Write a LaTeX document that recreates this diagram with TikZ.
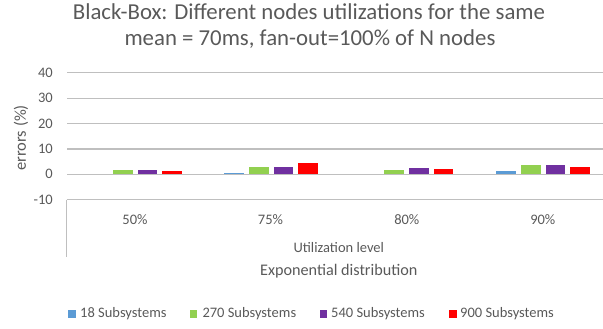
\documentclass[tikz,border=0pt]{standalone}
\usepackage{fontspec}
\setmainfont{Carlito}
\definecolor{txt}{HTML}{595959}
\definecolor{grid}{HTML}{BFBFBF}
\definecolor{cblue}{HTML}{5B9BD5}
\definecolor{cgreen}{HTML}{92D050}
\definecolor{cpurple}{HTML}{7030A0}
\definecolor{cred}{HTML}{FF0000}
\tikzset{
  gridline/.style={draw=grid, line width=1.2pt},
  axisline/.style={draw=grid, line width=1pt},
  lbl/.style={text=txt, inner sep=0pt, font=\fontsize{14.5}{17}\selectfont},
  tick/.style={lbl, anchor=east},
  legbox/.style={inner sep=0pt, minimum size=7.5pt},
}
\begin{document}
\begin{tikzpicture}[x=1pt,y=-1pt]
\useasboundingbox (0,0) rectangle (603,329);
% title
\node[lbl, anchor=base, font=\fontsize{22.8}{26}\selectfont] (t1) at (309,20) {Black-Box: Different nodes utilizations for the same};
\node[lbl, anchor=base, font=\fontsize{22.8}{26}\selectfont] (t2) at (310,46) {mean = 70ms, fan-out=100\% of N nodes};
% gridlines
\foreach \v/\n in {40/a,30/b,20/c,10/d,0/e,-10/f} {
  \draw[gridline] (67,{174.3-2.535*\v}) -- (603,{174.3-2.535*\v});
  \node[tick] (tk\n) at (53,{174.3-2.535*\v}) {\v};
}
% category axis frame
\draw[axisline] (66.7,199.7) -- (66.7,257.3);
% y label
\node[lbl, rotate=90, font=\fontsize{16.5}{19}\selectfont] (ylab) at (21,138) {errors (\%)};
% bars
\def\bw{19.6}
\foreach \c/\vb/\vg/\vp/\vr in {135/0/1.7/1.6/1.3, 271/0.6/2.9/2.9/4.3, 406.5/0/1.7/2.5/2.2, 543/1.3/3.6/3.6/2.9} {
  \ifdim\vb pt>0pt
  \fill[cblue] ({\c-36.9-\bw/2},174.3) rectangle ({\c-36.9+\bw/2},{174.3-2.535*\vb});
  \fi
  \fill[cgreen] ({\c-12.3-\bw/2},174.3) rectangle ({\c-12.3+\bw/2},{174.3-2.535*\vg});
  \fill[cpurple] ({\c+12.3-\bw/2},174.3) rectangle ({\c+12.3+\bw/2},{174.3-2.535*\vp});
  \fill[cred] ({\c+36.9-\bw/2},174.3) rectangle ({\c+36.9+\bw/2},{174.3-2.535*\vr});
}
% category labels
\node[lbl] (c1) at (135,220) {50\%};
\node[lbl] (c2) at (270.5,220) {75\%};
\node[lbl] (c3) at (406.8,220) {80\%};
\node[lbl] (c4) at (542.8,220) {90\%};
\node[lbl] (xl1) at (338.8,248) {Utilization level};
\node[lbl, font=\fontsize{16.2}{19}\selectfont] (xl2) at (338.8,271) {Exponential distribution};
% legend
\node[legbox, fill=cblue] (lb1) at (72,314) {};
\node[lbl, anchor=west] (lt1) at (80,314) {18 Subsystems};
\node[legbox, fill=cgreen] (lb2) at (193.3,314) {};
\node[lbl, anchor=west] (lt2) at (202.3,314) {270 Subsystems};
\node[legbox, fill=cpurple] (lb3) at (323.3,314) {};
\node[lbl, anchor=west] (lt3) at (331,314) {540 Subsystems};
\node[legbox, fill=cred] (lb4) at (452.8,314) {};
\node[lbl, anchor=west] (lt4) at (460,314) {900 Subsystems};
\end{tikzpicture}
\end{document}
